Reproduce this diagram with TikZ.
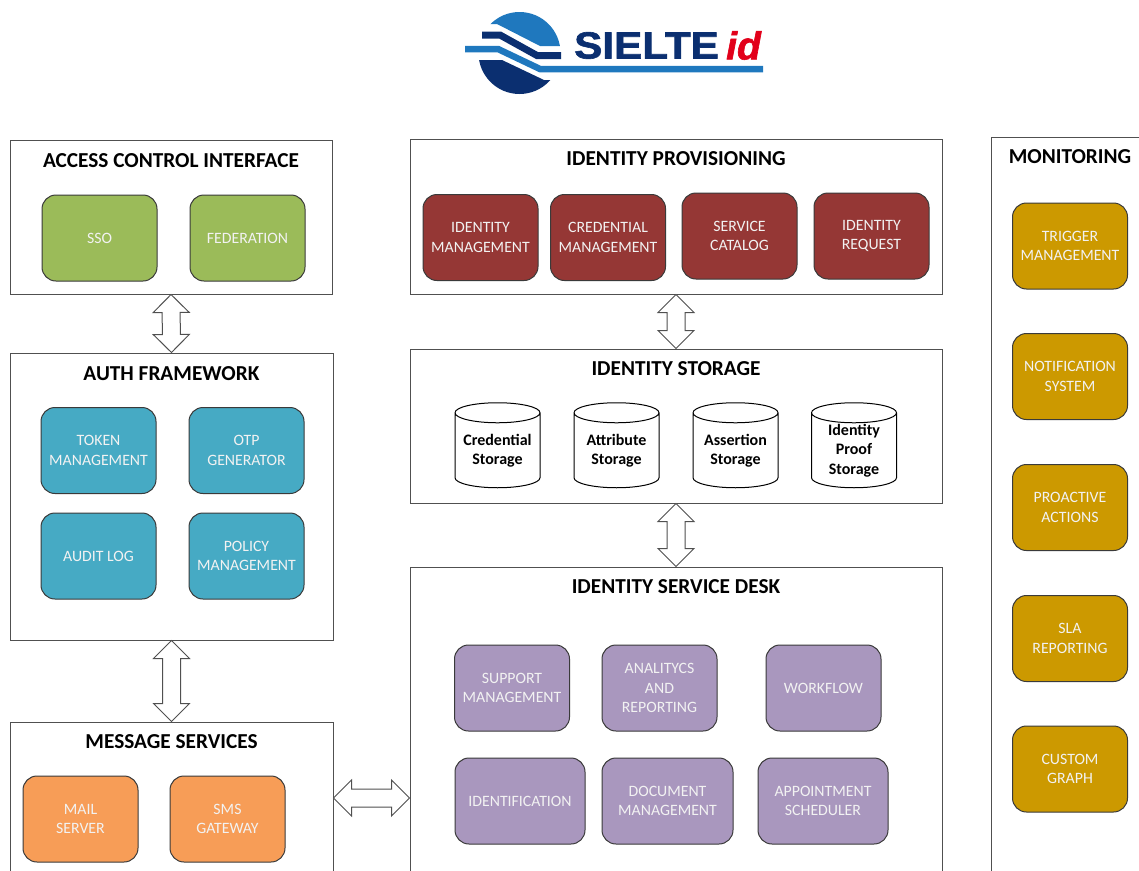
\documentclass[tikz,border=0pt]{standalone}
\usepackage{fontspec}
\setmainfont{Carlito}
\newfontfamily\logofont[BoldFeatures={FakeBold=1.6},BoldItalicFeatures={FakeBold=1.6}]{Liberation Sans}
\usetikzlibrary{calc,shapes.geometric}
\definecolor{panelline}{HTML}{505050}
\definecolor{itemline}{HTML}{3A3A3A}
\definecolor{itemtext}{HTML}{F2F2F2}
\definecolor{greenfill}{HTML}{9BBB59}
\definecolor{bluefill}{HTML}{46AAC4}
\definecolor{redfill}{HTML}{953735}
\definecolor{purplefill}{HTML}{A997BE}
\definecolor{orangefill}{HTML}{F79D57}
\definecolor{goldfill}{HTML}{CC9900}
\definecolor{logolight}{HTML}{1F78BE}
\definecolor{logonavy}{HTML}{0B2F70}
\definecolor{logored}{HTML}{E2001A}
\tikzset{
    panel/.style={draw=panelline, line width=1pt, fill=white, inner sep=0pt},
    paneltitle/.style={font=\fontsize{21.3}{24}\selectfont\bfseries, text=black, inner sep=0pt},
    item/.style={draw=itemline, line width=1pt, rounded corners=14pt, inner sep=0pt,
        minimum width=115pt, minimum height=86pt, align=center, text=itemtext,
        font=\fontsize{15.8}{19.5}\selectfont},
    store/.style={cylinder, shape border rotate=90, draw=black, line width=1pt, aspect=0.286,
        minimum width=85pt, minimum height=85pt, inner sep=0pt, text width=70pt, align=center, fill=white,
        font=\fontsize{16}{19.5}\selectfont\bfseries},
    blockarrow/.style={draw=panelline, fill=white, line width=1pt, line join=miter, to path={
        -- ($(\tikztostart)!18pt!(\tikztotarget)!18pt!90:(\tikztotarget)$)
        -- ($(\tikztostart)!18pt!(\tikztotarget)!9pt!90:(\tikztotarget)$)
        -- ($(\tikztotarget)!18pt!(\tikztostart)!9pt!-90:(\tikztostart)$)
        -- ($(\tikztotarget)!18pt!(\tikztostart)!18pt!-90:(\tikztostart)$)
        -- (\tikztotarget)
        -- ($(\tikztotarget)!18pt!(\tikztostart)!18pt!90:(\tikztostart)$)
        -- ($(\tikztotarget)!18pt!(\tikztostart)!9pt!90:(\tikztostart)$)
        -- ($(\tikztostart)!18pt!(\tikztotarget)!9pt!-90:(\tikztotarget)$)
        -- ($(\tikztostart)!18pt!(\tikztotarget)!18pt!-90:(\tikztotarget)$)
        -- cycle}},
}
\begin{document}
\begin{tikzpicture}[x=1pt,y=-1pt]
    \useasboundingbox (0,0) rectangle (1139,870);
    \clip (0,0) rectangle (1139,870);

    % logo
    \begin{scope}
        \clip (519.5,53) circle (41);
        \fill[logolight] (470,5) rectangle (570,24) (470,24) -- (497,24) -- (540,46) -- (570,46) -- (570,5) -- cycle;
        \fill[logonavy] (470,60) -- (502,60) -- (544,80) -- (570,80) -- (570,100) -- (470,100) -- cycle;
    \end{scope}
    \draw[logonavy, line width=7pt] (482,35) -- (500,35) -- (537,55.5) -- (561,55.5);
    \draw[logolight, line width=6.5pt] (465,49) -- (498,49) -- (540,69) -- (763,69);
    \node[anchor=west, inner sep=0pt, text=logonavy, font=\logofont\fontsize{37.7}{40}\selectfont\bfseries] (sielte) at (574,45.5) {\scalebox{1.12}[1]{SIELTE}};
    \node[anchor=west, inner sep=0pt, text=logored, font=\logofont\fontsize{39}{40}\selectfont\bfseries\itshape] (logoid) at (726,45.5) {id};

    % panels
    \node[panel, minimum width=322pt, minimum height=154pt] (access) at (171,217) {};
    \node[panel, minimum width=323pt, minimum height=287pt] (auth) at (171.5,496.5) {};
    \node[panel, minimum width=323pt, minimum height=152pt] (message) at (171.5,798) {};
    \node[panel, minimum width=532pt, minimum height=155pt] (provisioning) at (676,216.5) {};
    \node[panel, minimum width=532pt, minimum height=154pt] (storage) at (676,426) {};
    \node[panel, minimum width=532pt, minimum height=462pt] (desk) at (676,798) {};
    \node[panel, minimum width=158pt, minimum height=863pt] (monitoring) at (1070,568.5) {};

    \node[paneltitle] (accesstitle) at (171,161) {ACCESS CONTROL INTERFACE};
    \node[paneltitle] (authtitle) at (171.5,374) {AUTH FRAMEWORK};
    \node[paneltitle] (messagetitle) at (171.5,742) {MESSAGE SERVICES};
    \node[paneltitle] (provisioningtitle) at (676,159) {IDENTITY PROVISIONING};
    \node[paneltitle] (storagetitle) at (676,369) {IDENTITY STORAGE};
    \node[paneltitle] (desktitle) at (676,587) {IDENTITY SERVICE DESK};
    \node[paneltitle] (monitoringtitle) at (1070,157) {MONITORING};

    % access control interface
    \node[item, fill=greenfill] (sso) at (99.5,238) {SSO};
    \node[item, fill=greenfill] (federation) at (247.5,238) {FEDERATION};

    % auth framework
    \node[item, fill=bluefill] (token) at (98.5,450.5) {TOKEN\\MANAGEMENT};
    \node[item, fill=bluefill] (otp) at (246.5,450.5) {OTP\\GENERATOR};
    \node[item, fill=bluefill] (audit) at (98.5,556) {AUDIT LOG};
    \node[item, fill=bluefill] (policy) at (246.5,556) {POLICY\\MANAGEMENT};

    % message services
    \node[item, fill=orangefill] (mail) at (80.5,819) {MAIL\\SERVER};
    \node[item, fill=orangefill] (sms) at (227.5,819) {SMS\\GATEWAY};

    % identity provisioning
    \node[item, fill=redfill] (idmanagement) at (480.5,237.5) {IDENTITY\\MANAGEMENT};
    \node[item, fill=redfill] (credmanagement) at (608,237.5) {CREDENTIAL\\MANAGEMENT};
    \node[item, fill=redfill] (catalog) at (739.5,236) {SERVICE\\CATALOG};
    \node[item, fill=redfill] (request) at (871.5,236) {IDENTITY\\REQUEST};

    % identity storage
    \node[store] (credstore) at (497.5,450.5) {Credential\\Storage};
    \node[store] (attrstore) at (616.5,450.5) {Attribute\\Storage};
    \node[store] (assertstore) at (735.5,450.5) {Assertion\\Storage};
    \node[store] (proofstore) at (854,450.5) {Identity\\Proof\\Storage};

    % identity service desk
    \node[item, fill=purplefill] (support) at (512,688) {SUPPORT\\MANAGEMENT};
    \node[item, fill=purplefill] (analytics) at (659.5,688) {ANALITYCS\\AND\\REPORTING};
    \node[item, fill=purplefill] (workflow) at (823.5,688) {WORKFLOW};
    \node[item, fill=purplefill, minimum width=130pt] (identification) at (520,801) {IDENTIFICATION};
    \node[item, fill=purplefill, minimum width=131pt] (document) at (667.5,801) {DOCUMENT\\MANAGEMENT};
    \node[item, fill=purplefill, minimum width=130pt] (appointment) at (823,801) {APPOINTMENT\\SCHEDULER};

    % monitoring
    \node[item, fill=goldfill] (trigger) at (1070,246) {TRIGGER\\MANAGEMENT};
    \node[item, fill=goldfill] (notification) at (1070,376.5) {NOTIFICATION\\SYSTEM};
    \node[item, fill=goldfill] (proactive) at (1070,507.5) {PROACTIVE\\ACTIONS};
    \node[item, fill=goldfill] (sla) at (1070,638.5) {SLA\\REPORTING};
    \node[item, fill=goldfill] (graph) at (1070,769) {CUSTOM\\GRAPH};

    \draw[blockarrow] (access.south) to (auth.north);
    \draw[blockarrow] (auth.south) to (message.north);
    \draw[blockarrow] (provisioning.south) to (storage.north);
    \draw[blockarrow] (storage.south) to (desk.north);
    \draw[blockarrow] (message.east) to (desk.west);
\end{tikzpicture}
\end{document}
